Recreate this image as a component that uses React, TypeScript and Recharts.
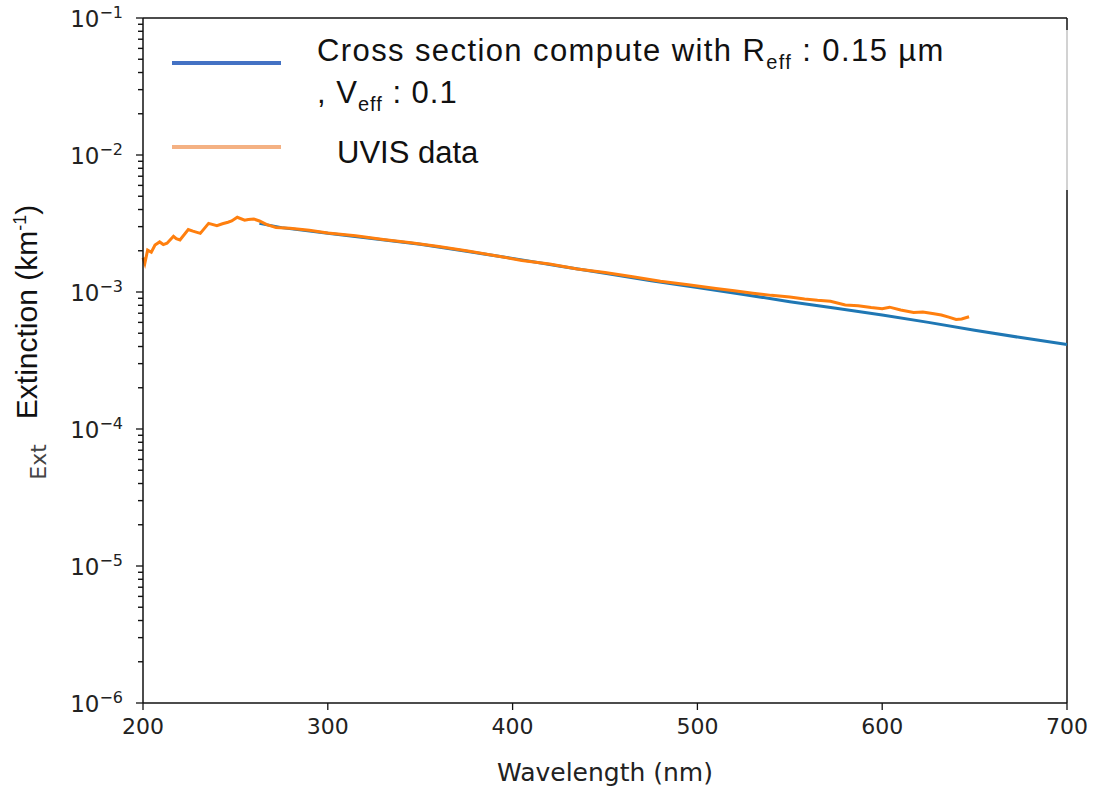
import React from "react";
import { ComposedChart, Line, Scatter, XAxis, YAxis, ReferenceLine } from "recharts";

// Mie cross-section model (R_eff 0.15 µm, V_eff 0.1)
const MODEL_WAVE = [263, 275, 300, 325, 350, 375, 400, 425, 450, 475, 500, 525, 550, 575, 600, 625, 650, 675, 700];
const MODEL_EXT = [
  3.17e-3, 2.95e-3, 2.68e-3, 2.45e-3, 2.23e-3, 1.98e-3, 1.76e-3, 1.55e-3, 1.37e-3, 1.21e-3,
  1.08e-3, 9.6e-4, 8.5e-4, 7.6e-4, 6.8e-4, 6.0e-4, 5.25e-4, 4.65e-4, 4.14e-4,
];

// UVIS occultation extinction
const UVIS_WAVE = [
  200, 201, 202.5, 204.5, 206.5, 209, 211, 213, 216.5, 218, 220, 224.5, 227, 231, 235.5, 240, 243, 246, 248, 251,
  255, 257, 260, 263, 267, 272, 279.5, 290, 300, 315, 330, 345, 360, 375, 390, 405, 420, 435, 450, 465, 480, 495,
  510, 520, 530, 540, 550, 558, 565, 572, 580, 587, 594, 600, 604, 610, 617, 622, 628, 632, 636, 640, 643, 647,
];
const UVIS_EXT = [
  1.78e-3, 1.62e-3, 2.02e-3, 1.95e-3, 2.2e-3, 2.32e-3, 2.22e-3, 2.27e-3, 2.55e-3, 2.45e-3, 2.4e-3, 2.86e-3,
  2.78e-3, 2.68e-3, 3.17e-3, 3.05e-3, 3.15e-3, 3.23e-3, 3.3e-3, 3.51e-3, 3.34e-3, 3.38e-3, 3.41e-3, 3.3e-3,
  3.1e-3, 2.96e-3, 2.92e-3, 2.82e-3, 2.7e-3, 2.57e-3, 2.42e-3, 2.29e-3, 2.15e-3, 2.0e-3, 1.85e-3, 1.7e-3,
  1.6e-3, 1.47e-3, 1.39e-3, 1.29e-3, 1.2e-3, 1.13e-3, 1.06e-3, 1.02e-3, 9.8e-4, 9.45e-4, 9.2e-4, 8.9e-4,
  8.7e-4, 8.55e-4, 8.05e-4, 7.95e-4, 7.7e-4, 7.55e-4, 7.75e-4, 7.4e-4, 7.1e-4, 7.15e-4, 6.95e-4, 6.8e-4,
  6.55e-4, 6.3e-4, 6.35e-4, 6.6e-4,
];

const X_TICKS = [200, 300, 400, 500, 600, 700];
const Y_DECADES = [1e-6, 1e-5, 1e-4, 1e-3, 1e-2, 1e-1];
const MINOR_STEPS = [2, 3, 4, 5, 6, 7, 8, 9];

const model = MODEL_WAVE.map((x, i) => ({ x, y: MODEL_EXT[i] }));
const uvis = UVIS_WAVE.map((x, i) => ({ x, y: UVIS_EXT[i] }));
// minor log ticks, placed on the left spine (x = 200)
const minorMarks = Y_DECADES.slice(0, -1).flatMap((d) => MINOR_STEPS.map((m) => ({ x: 200, y: m * d })));

const TICK_FONT = "'DejaVu Sans', sans-serif";
const TEXT_FONT = "'Liberation Sans', Arial, sans-serif";

function DecadeLabel(props: any) {
  const { x, y, payload } = props;
  const e = Math.round(Math.log10(payload.value));
  return (
    <text x={x} y={y + 9} textAnchor="end" fontSize={23} fill="#222" fontFamily={TICK_FONT}>
      10
      <tspan dy={-9} fontSize={16}>
        {"\u2212" + -e}
      </tspan>
    </text>
  );
}

function MinorMark(props: any) {
  const { cx, cy } = props;
  return <rect x={cx - 5} y={cy - 0.7} width={5} height={1.4} fill="#111" />;
}

export default function App() {
  return (
    <div style={{ position: "absolute", left: 0, top: 0, width: 1097, height: 786, background: "#fff" }}>
      <ComposedChart width={1097} height={786} margin={{ top: 18, right: 30, bottom: 0, left: 0 }}>
        <XAxis
          dataKey="x"
          type="number"
          domain={[200, 700]}
          ticks={X_TICKS}
          height={83}
          tickSize={7}
          tickMargin={8}
          axisLine={{ stroke: "#111", strokeWidth: 1.5 }}
          tickLine={{ stroke: "#111", strokeWidth: 1.3 }}
          tick={{ fontSize: 22, fill: "#222", fontFamily: TICK_FONT }}
          label={{
            value: "Wavelength (nm)",
            position: "insideBottom",
            offset: 5,
            fontSize: 25,
            fill: "#222",
            fontFamily: TICK_FONT,
          }}
        />
        <YAxis
          dataKey="y"
          type="number"
          scale="log"
          domain={[1e-6, 1e-1]}
          ticks={Y_DECADES}
          width={143}
          tickSize={7}
          tickMargin={13}
          interval={0}
          axisLine={{ stroke: "#111", strokeWidth: 1.5 }}
          tickLine={{ stroke: "#111", strokeWidth: 1.3 }}
          tick={<DecadeLabel />}
        />
        <ReferenceLine y={1e-1} stroke="#111" strokeWidth={1.5} />
        <ReferenceLine x={700} stroke="#111" strokeWidth={1.5} />
        <Scatter data={minorMarks} dataKey="y" shape={<MinorMark />} isAnimationActive={false} />
        <Line data={model} dataKey="y" stroke="#1f77b4" strokeWidth={3} dot={false} isAnimationActive={false} />
        <Line data={uvis} dataKey="y" stroke="#ff7f0e" strokeWidth={3} dot={false} isAnimationActive={false} />
      </ComposedChart>

      {/* legend panel laid over the top of the axes */}
      <div
        style={{
          position: "absolute",
          left: 150,
          top: 30,
          width: 920,
          height: 160,
          background: "rgba(255,255,255,0.75)",
        }}
      />
      <svg
        width={1097}
        height={786}
        style={{ position: "absolute", left: 0, top: 0, pointerEvents: "none" }}
      >
        <line x1={172} x2={281} y1={63} y2={63} stroke="#4472c4" strokeWidth={4} />
        <line x1={172} x2={281} y1={147} y2={147} stroke="#f4b183" strokeWidth={4} />
        <g fontFamily={TEXT_FONT} fontSize={31} fill="#111">
          <text x={317} y={61} letterSpacing={1.4}>
            Cross section compute with R
            <tspan dy={8} fontSize={20}>eff</tspan>
            <tspan dy={-8}> : 0.15 µm</tspan>
          </text>
          <text x={317} y={103} letterSpacing={1}>
            , V
            <tspan dy={8} fontSize={20}>eff</tspan>
            <tspan dy={-8}> : 0.1</tspan>
          </text>
          <text x={337} y={163}>UVIS data</text>
        </g>
        <text
          transform="translate(37,312) rotate(-90)"
          textAnchor="middle"
          fontFamily={TEXT_FONT}
          fontSize={30}
          fill="#111"
        >
          Extinction (km
          <tspan dy={-11} fontSize={18}>-1</tspan>
          <tspan dy={11}>)</tspan>
        </text>
        <text
          transform="translate(46,462) rotate(-90)"
          textAnchor="middle"
          fontFamily={TICK_FONT}
          fontSize={22}
          fill="#444"
        >
          Ext
        </text>
      </svg>
    </div>
  );
}
